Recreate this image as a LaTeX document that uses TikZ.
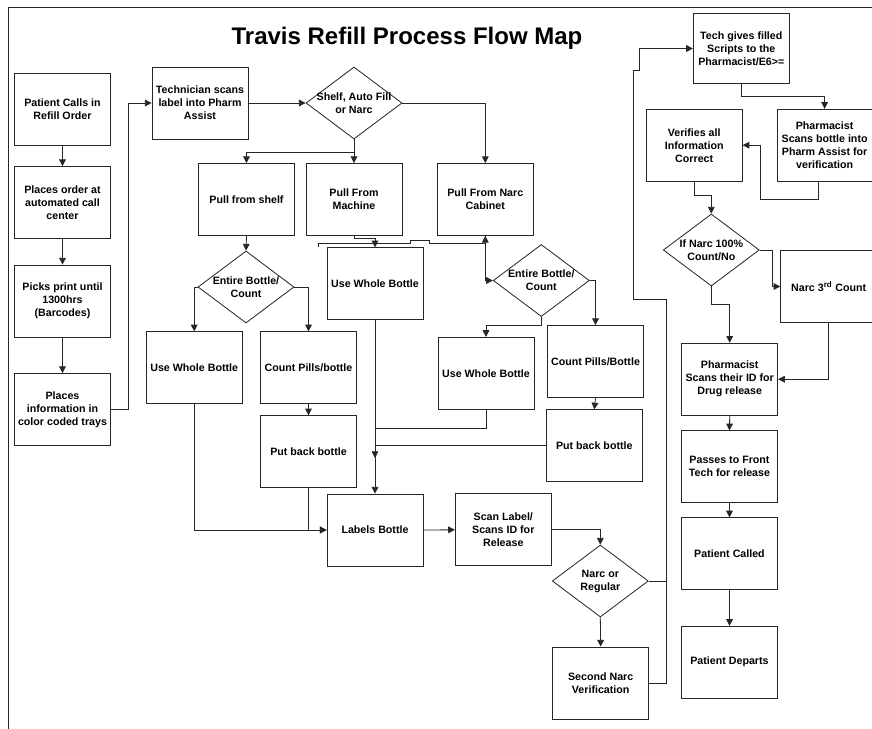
\documentclass[tikz,border=0pt]{standalone}
\usepackage{fontspec}
\setmainfont{Liberation Sans}
\usetikzlibrary{arrows.meta,shapes.geometric,calc}
\begin{document}
\begin{tikzpicture}[x=0.75pt,y=-0.75pt,
  line width=0.6pt,
  txt/.style={font=\fontsize{8}{9.75}\selectfont\bfseries},
  box/.style={draw=black!85, rectangle, inner sep=1pt, minimum width=72pt, minimum height=54pt, align=center, txt},
  dia/.style={draw=black!85, diamond, inner sep=0pt, minimum width=72pt, minimum height=54pt},
  lbl/.style={align=center, inner sep=0pt, txt},
  arr/.style={-{Triangle[length=5pt,width=5pt]}},
  con/.style={draw=black!85}]
\useasboundingbox (0,0) rectangle (872,729);
\fill[white] (0,0) rectangle (872,729);
% frame
\draw[con] (8,729) -- (8,7.3) -- (872,7.3);
% title
\node[font=\fontsize{18}{20}\selectfont\bfseries] (title) at (407,38) {Travis Refill Process Flow Map};
% left column
\node[box] (p1) at (62.5,109.5) {Patient Calls in\\Refill Order};
\node[box] (p2) at (62.5,202.5) {Places order at\\automated call\\center};
\node[box] (p3) at (62.5,301) {Picks print until\\1300hrs\\(Barcodes)};
\node[box] (p4) at (62.5,409.5) {Places\\information in\\color coded trays};
\node[box] (tech) at (200,103) {Technician scans\\label into Pharm\\Assist};
\node[dia, label={[lbl]center:{Shelf, Auto Fill\\or Narc}}] (d1) at (354,103) {};
\node[box] (shelf) at (246.5,199.5) {Pull from shelf};
\node[box] (machine) at (354,199.5) {Pull From\\Machine};
\node[box] (narc) at (485.3,199.5) {Pull From Narc\\Cabinet};
\node[dia, label={[lbl]center:{Entire Bottle/\\Count}}] (d2) at (246,287) {};
\node[box] (uwb1) at (194.2,367.7) {Use Whole Bottle};
\node[box] (cp1) at (308.5,367.7) {Count Pills/bottle};
\node[box] (pb1) at (308.5,451.7) {Put back bottle};
\node[box] (uwb2) at (375,283.7) {Use Whole Bottle};
\node[dia, label={[lbl]center:{Entire Bottle/\\Count}}] (d3) at (541.3,280.5) {};
\node[box] (uwb3) at (486,373.3) {Use Whole Bottle};
\node[box] (cp2) at (595.5,361.5) {Count Pills/Bottle};
\node[box] (pb2) at (594.3,445.8) {Put back bottle};
\node[box] (labels) at (375,530) {Labels Bottle};
\node[box] (scan) at (503.3,529.8) {Scan Label/\\Scans ID for\\Release};
\node[dia, label={[lbl]center:{Narc or\\Regular}}] (d4) at (600.3,581) {};
\node[box] (snv) at (600.7,683) {Second Narc\\Verification};
% right column
\node[box, minimum height=52.5pt] (techg) at (741.3,48.5) {Tech gives filled\\Scripts to the\\Pharmacist/E6>=};
\node[box, minimum width=71.25pt] (phs) at (824.6,145.2) {Pharmacist\\Scans bottle into\\Pharm Assist for\\verification};
\node[box] (ver) at (694.2,145.2) {Verifies all\\Information\\Correct};
\node[dia, label={[lbl]center:{If Narc 100\%\\Count/No}}] (d5) at (711.3,250) {};
\node[box] (n3) at (828.7,286.5) {Narc 3\textsuperscript{rd} Count};
\node[box] (phid) at (729.7,379.2) {Pharmacist\\Scans their ID for\\Drug release};
\node[box] (passes) at (729.5,466.7) {Passes to Front\\Tech for release};
\node[box] (called) at (729.5,553.8) {Patient Called};
\node[box] (departs) at (729.5,662.2) {Patient Departs};
% helper coordinates
\coordinate (wstart) at (318,247);
\coordinate (m) at (375,458);
\coordinate (r1) at (666.7,299);
\coordinate (r2) at (633.3,70);
\coordinate (r3) at (639.3,48.5);
\coordinate (r4) at (760,199);
% connectors
\draw[con,arr] (p1.south) -- (p2.north);
\draw[con,arr] (p2.south) -- (p3.north);
\draw[con,arr] (p3.south) -- (p4.north);
\draw[con,arr] (p4.east) -- ++(17,0) |- (tech.west);
\draw[con,arr] (tech.east) -- (d1.west);
\draw[con,arr] (d1.south) -- (machine.north);
\draw[con,arr] ($(d1.south)+(0,13)$) -| (shelf.north);
\draw[con,arr] (d1.east) -| (narc.north);
\draw[con,arr] (shelf.south) -- (d2.north);
\draw[con,arr] (d2.west) -| (uwb1.north);
\draw[con,arr] (d2.east) -| (cp1.north);
\draw[con,arr] (cp1.south) -- (pb1.north);
\draw[con,arr] (uwb1.south) |- (labels.west);
\draw[con,arr] (pb1.south) |- (labels.west);
\draw[con,arr] (machine.south) -- ++(0,2) -| (uwb2.north);
\draw[con,arr] (wstart) -- (318,243) -- (410,243) -- (410,240) -- (429,240) -- (429,243) -| (narc.south);
\draw[con,arr] (narc.south) |- (d3.west);
\draw[con,arr] (d3.south) -- ++(0,8) -| (uwb3.north);
\draw[con,arr] (d3.east) -| (cp2.north);
\draw[con,arr] (cp2.south) -- (pb2.north);
\draw[con,arr] (uwb2.south) -- (m);
\draw[con] (uwb3.south) -- ++(0,18.5) -| (m);
\draw[con] (pb2.west) -| (m);
\draw[con,arr] (m) -- (labels.north);
\draw[con,arr] (labels.east) -- (scan.west);
\draw[con,arr] (scan.east) -| (d4.north);
\draw[con,arr] (d4.south) -- (snv.north);
\draw[con] (d4.east) -- (d4.east -| r1);
\draw[con,arr] (snv.east) -| (r1) -| (r2) -| (r3) -- (techg.west);
\draw[con,arr] (techg.south) -- ++(0,12) -| (phs.north);
\draw[con,arr] ($(phs.south)+(-6,0)$) |- (r4) |- (ver.east);
\draw[con,arr] (ver.south) -- ++(0,13.3) -| (d5.north);
\draw[con,arr] (d5.east) -- ++(12.4,0) |- (n3.west);
\draw[con,arr] (d5.south) -- ++(0,18) -| (phid.north);
\draw[con,arr] (n3.south) |- (phid.east);
\draw[con,arr] (phid.south) -- (passes.north);
\draw[con,arr] (passes.south) -- (called.north);
\draw[con,arr] (called.south) -- (departs.north);
\end{tikzpicture}
\end{document}
